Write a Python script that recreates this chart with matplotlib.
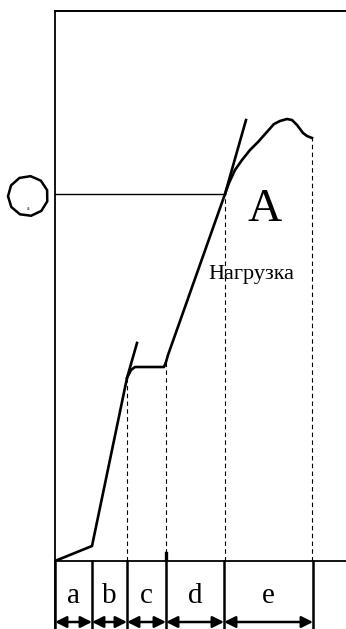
import numpy as np
import matplotlib.pyplot as plt
from matplotlib.patches import Polygon

plt.rcParams['font.family'] = ['Liberation Serif', 'DejaVu Serif']

# load curve (deformation, load), units
strain = [0, 37, 72, 76, 80, 109, 111, 113, 170, 174, 180, 187, 195, 203,
          211, 219, 225, 232, 237, 242, 248, 252, 257]
load = [0, 15, 183, 191, 194, 194, 199, 206, 367, 378, 391, 401, 411, 419,
        428, 437, 440, 442, 441, 436, 428, 425, 423]

# straight tangents
tan1_x = [72, 82]
tan1_y = [183, 218]
tan2_x = [170, 191]
tan2_y = [367, 441]

# level of point A
level_A = 367
x_A = 170

# dashed drop lines (x, top)
drop_x = [72, 111, 170, 257]
drop_top = [183, 199, 367, 423]

# stage boundaries and labels
bounds = [0, 37, 72, 111, 169, 258]
stages = ['a', 'b', 'c', 'd', 'e']

W, H = 346, 629
fig = plt.figure(figsize=(W / 100, H / 100), dpi=100)
ax = fig.add_axes([55 / W, 0, 1 - 55 / W, 1])
ax.set_xlim(0, 291)
ax.set_ylim(-68, 561)
ax.axis('off')

# axis frame
ax.plot([0, 0], [-68, 550], color='black', lw=1.3, clip_on=False)
ax.plot([0, 291], [550, 550], color='black', lw=1.4, clip_on=False)
ax.plot([0, 291], [0, 0], color='black', lw=1.3, clip_on=False)

# curve and tangents
ax.plot(strain, load, color='black', lw=1.9, solid_joinstyle='round')
ax.plot(tan1_x, tan1_y, color='black', lw=1.9)
ax.plot(tan2_x, tan2_y, color='black', lw=1.9)
ax.plot([0, x_A], [level_A, level_A], color='black', lw=1.0)

for x, top in zip(drop_x, drop_top):
    ax.plot([x, x], [0, top], color='black', lw=0.8, linestyle=(0, (4, 3)))

ax.plot([110.5, 110.5], [2, 8], color='black', lw=2.4)

# stage ticks, labels and arrows
for x in bounds:
    ax.plot([x, x], [0, -68], color='black', lw=1.8, clip_on=False)
for i, s in enumerate(stages):
    x0, x1 = bounds[i], bounds[i + 1]
    ax.text((x0 + x1) / 2, -35, s, fontsize=21, ha='center', va='center')
    ax.annotate('', xy=(x0, -61), xytext=(x1, -61),
                arrowprops=dict(arrowstyle='<|-|>', color='black', lw=1.8,
                                mutation_scale=17, shrinkA=0, shrinkB=0))

ax.text(210, 351, 'A', fontsize=34, ha='center', va='center')
ax.text(196, 286, 'Нагрузка', fontsize=16, ha='center', va='center')

# symbol on the left
ang = np.linspace(0, 2 * np.pi, 12)[:-1] + 0.3
circ = Polygon(np.c_[-27 + 20 * np.cos(ang), 365 + 20 * np.sin(ang)],
               closed=True, fill=False, edgecolor='black', lw=1.8,
               clip_on=False)
ax.add_patch(circ)
ax.text(-27, 353, 'a', fontsize=4, ha='center', va='center')

fig.savefig('out.png', dpi=100)
